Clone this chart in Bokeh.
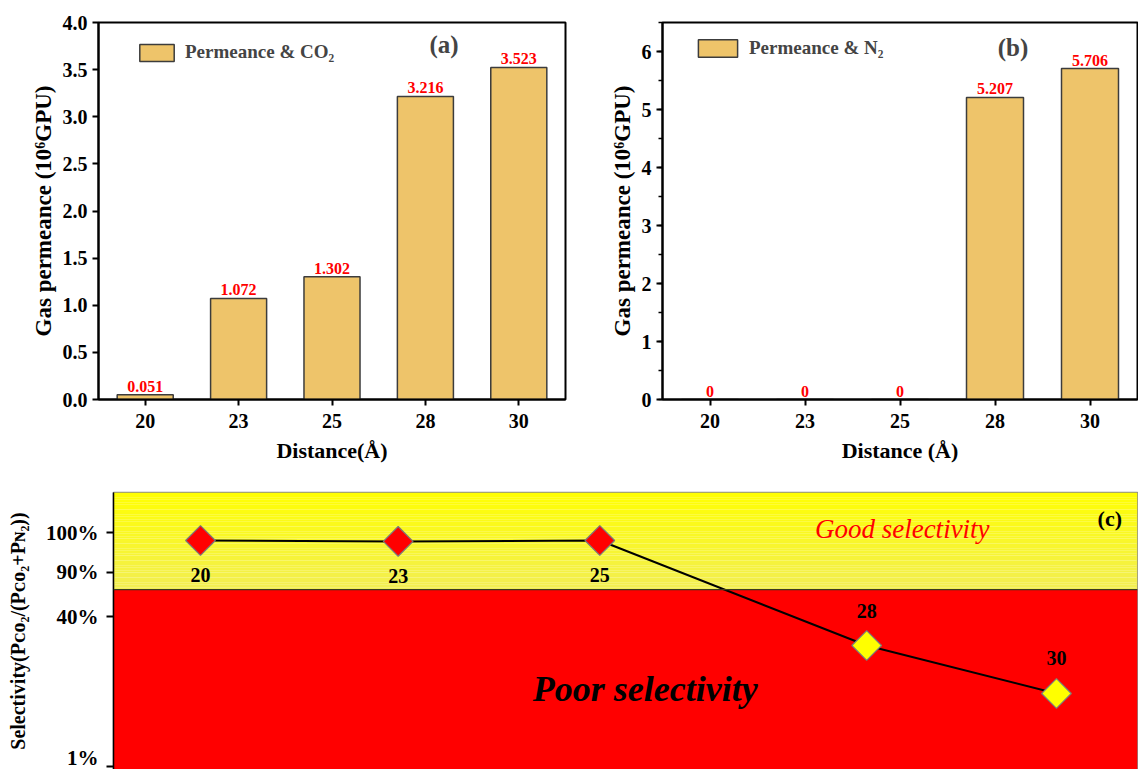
import numpy as np
from bokeh.plotting import figure
from bokeh.models import (Range1d, FactorRange, Legend, LegendItem, ColumnDataSource,
                          FixedTicker, SingleIntervalTicker, PrintfTickFormatter,
                          Label, Span, BoxAnnotation)
from bokeh.layouts import column, row
from bokeh.embed import file_html
from bokeh.resources import INLINE
from bokeh.core.properties import value

# ---- data -------------------------------------------------------------
distances = ["20", "23", "25", "28", "30"]
co2_permeance = [0.051, 1.072, 1.302, 3.216, 3.523]   # 10^6 GPU
n2_permeance = [0.0, 0.0, 0.0, 5.207, 5.706]          # 10^6 GPU

# selectivity panel: schematic positions on a non-linear selectivity scale
sel_x = [1.0, 2.0, 3.02, 4.37, 5.33]
sel_level = [96.6, 96.2, 96.6, 51.7, 31.2]
sel_tick_levels = [0, 64, 83, 100]
sel_tick_labels = ["1%", "40%", "90%", "100%"]
good_threshold = 75.6

FONT = "Liberation Serif"
BAR_FILL = "#EEC46A"
BAR_LINE = "#3c3c3c"


def style_axes(p, tick_size="20px", label_size="22px"):
    p.xgrid.visible = False
    p.ygrid.visible = False
    for ax in p.axis:
        ax.axis_line_color = "black"
        ax.axis_line_width = 2
        ax.major_tick_line_color = "black"
        ax.major_tick_line_width = 2
        ax.major_tick_in = 0
        ax.major_tick_out = 6
        ax.minor_tick_in = 0
        ax.minor_tick_out = 4
        ax.minor_tick_line_width = 1.5
        ax.minor_tick_line_color = "black"
        ax.major_label_text_font = FONT
        ax.major_label_text_font_style = "bold"
        ax.major_label_text_font_size = tick_size
        ax.major_label_text_color = "black"
        ax.axis_label_text_font = FONT
        ax.axis_label_text_font_style = "bold"
        ax.axis_label_text_font_size = label_size
        ax.axis_label_text_color = "black"


def bar_panel(values, ymax, ticker, formatter, legend_label, tag, tag_xy, xlabel,
              width, borders, legend_loc, glyph_wh):
    left, right, top, bottom = borders
    p = figure(x_range=FactorRange(*distances, range_padding=0),
               y_range=Range1d(0, ymax), width=width, height=480,
               output_backend="svg", toolbar_location=None,
               min_border_left=left, min_border_right=right,
               min_border_top=top, min_border_bottom=bottom)
    src = ColumnDataSource(dict(
        d=distances, v=values,
        t=[f"{v:.3f}" if v else "0" for v in values]))
    bars = p.vbar(x="d", top="v", width=0.6, source=src,
                  fill_color=BAR_FILL, line_color=BAR_LINE, line_width=1.5)
    p.text(x="d", y="v", text="t", source=src, text_font=value(FONT),
           text_font_style="bold", text_font_size="16px", text_color="#FF0000",
           text_align="center", text_baseline="bottom", y_offset=-3)

    style_axes(p)
    p.yaxis.ticker = ticker
    p.yaxis.formatter = formatter
    p.yaxis.axis_label = "Gas permeance (10\u2076GPU)"
    p.yaxis.axis_label_text_font_size = "23px"
    p.yaxis.major_label_standoff = 5
    p.yaxis.axis_label_standoff = 4
    p.xaxis.axis_label = xlabel
    p.xaxis.major_label_standoff = 8
    p.xaxis.axis_label_standoff = 7

    p.outline_line_color = "black"
    p.outline_line_width = 2

    legend = Legend(items=[LegendItem(label=legend_label, renderers=[bars])],
                    location=legend_loc, border_line_color=None,
                    background_fill_alpha=0, padding=0, margin=0, spacing=0,
                    glyph_width=glyph_wh[0], glyph_height=glyph_wh[1],
                    label_height=glyph_wh[1], label_standoff=7,
                    label_text_font=FONT, label_text_font_style="bold",
                    label_text_font_size="19px", label_text_baseline="middle")
    p.add_layout(legend)

    p.add_layout(Label(x=tag_xy[0], y=tag_xy[1], text=tag, text_font=FONT,
                       text_font_style="bold", text_font_size="25px",
                       text_align="center", text_baseline="middle"))
    return p


pa = bar_panel(co2_permeance, 4.0,
               SingleIntervalTicker(interval=0.5, num_minor_ticks=0),
               PrintfTickFormatter(format="%.1f"),
               "Permeance & CO\u2082", "(a)", (3.70, 3.77), "Distance(\u00c5)",
               580, (98, 15, 22, 81), (37, 336), (43, 21))
pa.yaxis.minor_tick_line_color = None

pb = bar_panel(n2_permeance, 6.5,
               SingleIntervalTicker(interval=1, num_minor_ticks=2),
               PrintfTickFormatter(format="%d"),
               "Permeance & N\u2082", "(b)", (3.69, 6.07), "Distance (\u00c5)",
               558, (82, 1, 22, 77), (31, 340), (49, 22))

# ---- selectivity panel ---------------------------------------------------
pc = figure(x_range=Range1d(0.56, 5.74), y_range=Range1d(-1.3, 117.1),
            width=1138, height=289, output_backend="svg", toolbar_location=None,
            x_axis_location=None,
            min_border_left=113, min_border_right=1,
            min_border_top=12, min_border_bottom=0)
pc.xgrid.visible = False
pc.ygrid.visible = False
pc.outline_line_color = "#8a8a8a"
pc.outline_line_width = 1.5

# poor-selectivity region
pc.add_layout(BoxAnnotation(top=good_threshold, fill_color="#FF0000", fill_alpha=1,
                            line_color=None, level="underlay"))
# good-selectivity region, shaded from bright to pale yellow
n_strips = 40
edges = np.linspace(good_threshold, pc.y_range.end, n_strips + 1)
c_low = np.array([242, 238, 84])
c_high = np.array([255, 255, 0])
for i in range(n_strips):
    f = (i + 0.5) / n_strips
    c = (c_low + (c_high - c_low) * f).round().astype(int)
    pc.add_layout(BoxAnnotation(bottom=edges[i], top=edges[i + 1],
                                fill_color="#%02x%02x%02x" % tuple(c), fill_alpha=1,
                                line_color=None, level="underlay"))
pc.add_layout(Span(location=good_threshold, dimension="width",
                   line_color="#3b3b1e", line_width=1.2))

marker_colors = ["#FF0000" if lvl > good_threshold else "#FFFF00" for lvl in sel_level]
label_offsets = [35 if lvl > good_threshold else -35 for lvl in sel_level]
sel_src = ColumnDataSource(dict(x=sel_x, y=sel_level, c=marker_colors,
                                d=distances, off=label_offsets))
pc.line(x="x", y="y", source=sel_src, line_color="black", line_width=2)
pc.scatter(x="x", y="y", source=sel_src, marker="square", size=21, angle=np.pi / 4,
           fill_color="c", line_color="#7a7a7a", line_width=1.2)
pc.text(x="x", y="y", text="d", source=sel_src, y_offset="off",
        text_font=value(FONT), text_font_style="bold", text_font_size="20px",
        text_align="center", text_baseline="middle", text_color="black")

pc.add_layout(Label(x=4.55, y=101.7, text="Good selectivity", text_font=FONT,
                    text_font_style="italic", text_font_size="27px",
                    text_color="#FF0000", text_align="center", text_baseline="middle"))
pc.add_layout(Label(x=3.25, y=33.3, text="Poor selectivity", text_font=FONT,
                    text_font_style="bold italic", text_font_size="36px",
                    text_color="black", text_align="center", text_baseline="middle"))
pc.add_layout(Label(x=5.6, y=106, text="(c)", text_font=FONT,
                    text_font_style="bold", text_font_size="22px",
                    text_color="black", text_align="center", text_baseline="middle"))

style_axes(pc, tick_size="21px", label_size="20px")
pc.yaxis.axis_line_width = 1.5
pc.yaxis.ticker = FixedTicker(ticks=sel_tick_levels)
pc.yaxis.major_label_overrides = {lvl: lab for lvl, lab in zip(sel_tick_levels, sel_tick_labels)}
pc.yaxis.major_tick_out = 7
pc.yaxis.major_label_standoff = 8
pc.yaxis.axis_label = "Selectivity(P\u1d04\u1d0f\u2082/(P\u1d04\u1d0f\u2082+P\u0274\u2082))"
pc.yaxis.axis_label_standoff = 14

layout = column(row(pa, pb, spacing=0), pc, spacing=0)
open("out.html", "w").write(file_html(layout, INLINE))
